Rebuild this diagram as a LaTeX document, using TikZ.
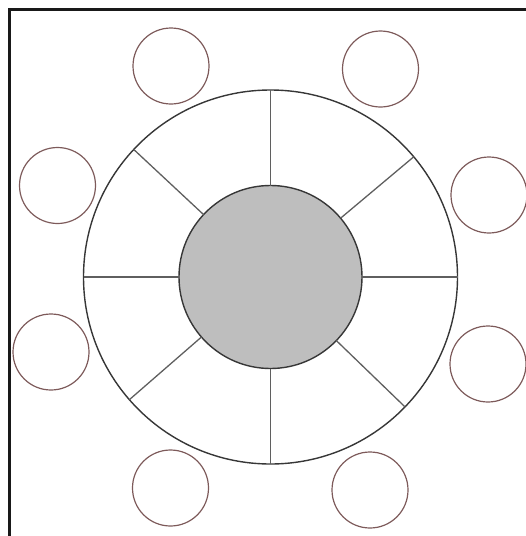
\documentclass[tikz,border=0pt]{standalone}
\usepackage{tikz}

\definecolor{tableline}{RGB}{55,55,55}
\definecolor{spokeline}{RGB}{95,95,95}
\definecolor{seatline}{RGB}{125,90,90}
\definecolor{hubfill}{RGB}{190,190,190}

\begin{document}
\begin{tikzpicture}[x=1pt, y=-1pt,
    ring/.style={draw=tableline, circle, line width=1.4pt, inner sep=0pt, outer sep=0pt},
    spoke/.style={draw=spokeline, line width=1.3pt},
    seat/.style={draw=seatline, circle, line width=1.2pt, minimum size=76pt, inner sep=0pt}]
    \useasboundingbox (0,0) rectangle (526,536);
    \draw[line width=2.5pt, black!90] (526,9.5) -- (9.5,9.5) -- (9.5,536);

    % table
    \node[ring, minimum size=374pt] (table) at (270.5,277) {};
    \node[ring, fill=hubfill, minimum size=183pt] (hub) at (270.5,277) {};
    \foreach \a in {0,40,90,137,180,221,270,316}
        \draw[spoke] (hub.\a) -- (table.\a);

    % seats
    \node[seat] (seat1) at (171,66) {};
    \node[seat] (seat2) at (380.5,69) {};
    \node[seat] (seat3) at (489,195) {};
    \node[seat] (seat4) at (488,364) {};
    \node[seat] (seat5) at (370,490) {};
    \node[seat] (seat6) at (170.5,488) {};
    \node[seat] (seat7) at (51,352) {};
    \node[seat] (seat8) at (57.5,185.5) {};
\end{tikzpicture}
\end{document}
